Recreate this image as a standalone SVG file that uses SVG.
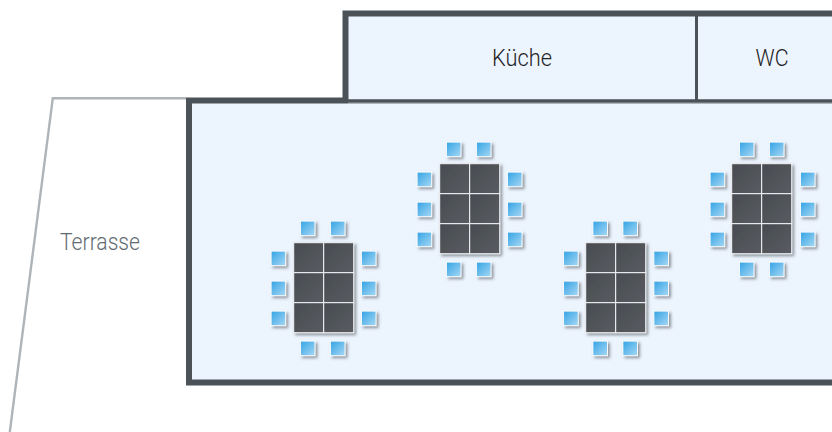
<svg xmlns="http://www.w3.org/2000/svg" width="832" height="432" viewBox="0 0 832 432">
<style>
.room{fill:#ecf4fe}
.wall{fill:#4b5358}
.edge{fill:#9aa2a8}
.label{font-family:"Roboto","Liberation Sans",sans-serif;font-weight:300;font-size:24px;text-anchor:middle;fill:#1f2224}
.soft{fill:#5f6a72}
.cell{fill:url(#dark);stroke:#f4f6f8;stroke-width:1}
.chair{fill:url(#blue);stroke:#fff;stroke-width:.9}
</style>
<defs>
<linearGradient id="dark" x1="0" y1="0" x2="1" y2="1"><stop offset="0" stop-color="#484c50"/><stop offset="1" stop-color="#595c61"/></linearGradient>
<linearGradient id="blue" x1="0" y1="0" x2="1" y2="1"><stop offset="0" stop-color="#34a3e4"/><stop offset="1" stop-color="#a6d8f5"/></linearGradient>
<filter id="sh" x="-30%" y="-30%" width="170%" height="170%"><feDropShadow dx="2" dy="2" stdDeviation="1.5" flood-color="#4b5358" flood-opacity=".6"/></filter>
<g id="chairs" filter="url(#sh)">
<rect class="chair" x="6.7" y="-21.6" width="14.6" height="14.6"/><rect class="chair" x="36.7" y="-21.6" width="14.6" height="14.6"/>
<rect class="chair" x="-22.6" y="8.4" width="14.6" height="14.6"/><rect class="chair" x="-22.6" y="38.4" width="14.6" height="14.6"/><rect class="chair" x="-22.6" y="68.4" width="14.6" height="14.6"/>
<rect class="chair" x="67.7" y="8.4" width="14.6" height="14.6"/><rect class="chair" x="67.7" y="38.4" width="14.6" height="14.6"/><rect class="chair" x="67.7" y="68.4" width="14.6" height="14.6"/>
<rect class="chair" x="6.7" y="98.4" width="14.6" height="14.6"/><rect class="chair" x="36.7" y="98.4" width="14.6" height="14.6"/>
</g>
<g id="cells" filter="url(#sh)">
<rect class="cell" x="0" y="0" width="30" height="30"/><rect class="cell" x="30" y="0" width="30" height="30"/>
<rect class="cell" x="0" y="30" width="30" height="30"/><rect class="cell" x="30" y="30" width="30" height="30"/>
<rect class="cell" x="0" y="60" width="30" height="30"/><rect class="cell" x="30" y="60" width="30" height="30"/>
</g>
</defs>
<rect width="832" height="432" fill="#fff"/>
<g id="terrasse">
<polyline points="186,98.2 52.8,98.2 9.8,432" fill="none" stroke="#aeb4b8" stroke-width="2.4"/>
<text class="label soft" x="100" y="250" textLength="80" lengthAdjust="spacingAndGlyphs">Terrasse</text>
</g>
<g id="kueche">
<rect class="wall" x="342.5" y="10.5" width="490" height="90"/>
<rect class="room" x="348.5" y="16.5" width="346.5" height="83"/>
<text class="label" x="522" y="66" textLength="60" lengthAdjust="spacingAndGlyphs">Küche</text>
</g>
<g id="wc">
<rect class="room" x="698" y="16.5" width="134" height="83"/>
<text class="label" x="772" y="66" textLength="33" lengthAdjust="spacingAndGlyphs">WC</text>
</g>
<g id="gastraum">
<rect class="wall" x="186" y="97.5" width="157" height="6"/>
<rect class="wall" x="186" y="99.5" width="646" height="286"/>
<rect class="edge" x="348" y="102.5" width="484" height="1"/>
<rect class="room" x="192" y="103.5" width="640" height="276"/>
</g>
<g id="tisch-1"><use href="#chairs" x="293.7" y="242.7"/><use href="#cells" x="293.7" y="242.7"/></g>
<g id="tisch-2"><use href="#chairs" x="439.7" y="163.7"/><use href="#cells" x="439.7" y="163.7"/></g>
<g id="tisch-3"><use href="#chairs" x="586.2" y="242.7"/><use href="#cells" x="585.7" y="242.7"/></g>
<g id="tisch-4"><use href="#chairs" x="732.7" y="163.7"/><use href="#cells" x="731.7" y="163.7"/></g>
</svg>
